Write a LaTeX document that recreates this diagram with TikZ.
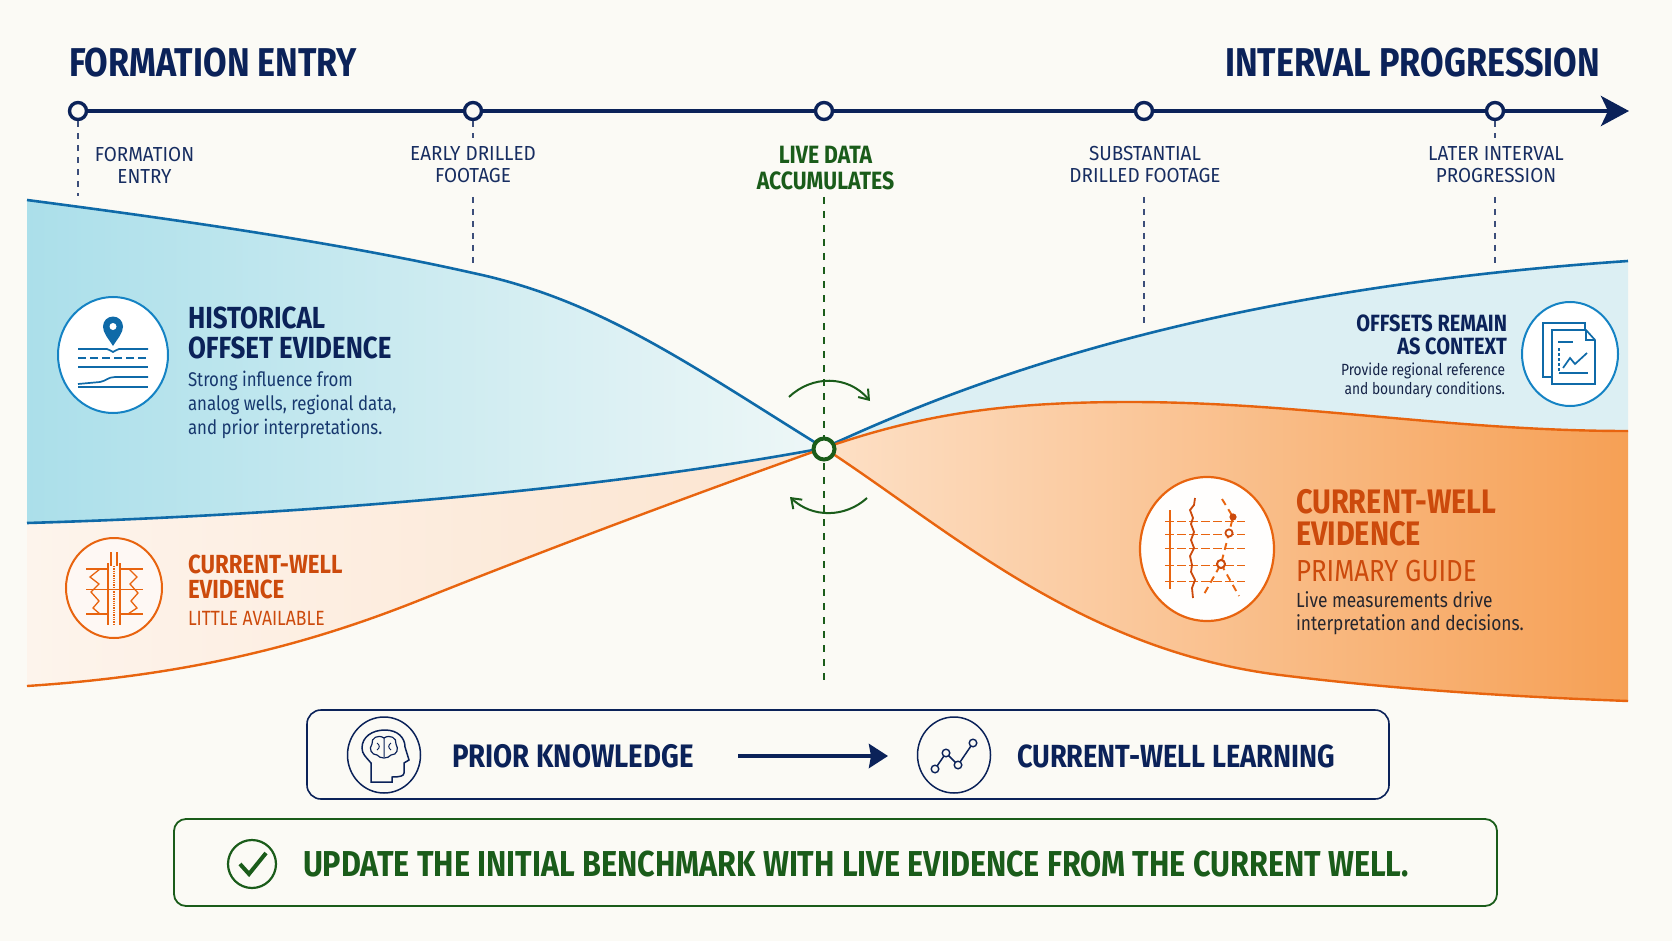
\documentclass[tikz,border=0pt]{standalone}
\usepackage{fontspec}
\usetikzlibrary{arrows.meta}
\setmainfont{Fira Sans}
\newfontfamily\cn[FakeStretch=0.85]{Fira Sans}
\newfontfamily\cw[FakeStretch=0.93]{Fira Sans}
\newcommand{\fz}[2]{\fontsize{#1}{#2}\selectfont}
\newcommand{\pathBT}{(27,200) .. controls (180,220) and (340,243) .. (473,273) .. controls (600,300) and (690,365) .. (824,448)}
\definecolor{bgc}{HTML}{FBFAF5}
\definecolor{navy}{HTML}{0B2259}
\definecolor{bodyblue}{HTML}{17386E}
\definecolor{lineblue}{HTML}{0F6AA8}
\definecolor{iconblue}{HTML}{1583C4}
\definecolor{lineor}{HTML}{E8640F}
\definecolor{textor}{HTML}{CC4A0C}
\definecolor{grn}{HTML}{1A5C1A}
\definecolor{dk}{HTML}{26262E}
\definecolor{blA}{HTML}{ABDFEA}
\definecolor{blB}{HTML}{D2ECF1}
\definecolor{blC}{HTML}{EEF7F7}
\definecolor{blD}{HTML}{DCEFF3}
\definecolor{orA}{HTML}{FDF4EC}
\definecolor{orM}{HTML}{FDF2E8}
\definecolor{orB}{HTML}{FCE4CF}
\definecolor{orC}{HTML}{FDE0C6}
\definecolor{orD}{HTML}{FDC08A}
\definecolor{orE}{HTML}{F6A055}
\tikzset{
  x=1pt,y=-1pt,
  txt/.style={inner sep=0pt,outer sep=0pt},
  axisdot/.style={circle,draw=navy,fill=bgc,line width=3.4pt,minimum size=17pt,inner sep=0pt},
  drop/.style={navy!80,line width=1.2pt,dash pattern=on 6pt off 6pt},
  bandblue/.style={lineblue,line width=2.6pt},
  bandor/.style={lineor,line width=2.4pt},
  icb/.style={lineblue,line width=1.7pt},
  ico/.style={lineor,line width=1.3pt},
  icn/.style={navy,line width=1.5pt},
  rot/.style={grn,line width=2pt,-{Straight Barb[length=9pt,width=13pt]}},
  lab/.style={txt,align=center,text=navy!95,font={\cw\fz{20.3}{22}}},
}
\begin{document}
\begin{tikzpicture}
\fill[bgc] (0,0) rectangle (1672,941);
\useasboundingbox (0,0) rectangle (1672,941);
% --- bands
\shade[left color=blA,middle color=blB,right color=blC]
  \pathBT .. controls (600,490) and (300,515) .. (27,523) -- cycle;
\shade[left color=orA,middle color=orM,right color=orB]
  (27,523) .. controls (300,515) and (600,490) .. (824,448) .. controls (700,492) and (550,548) .. (420,600) .. controls (300,648) and (180,676) .. (27,686) -- cycle;
\fill[blD]
  (824,448) .. controls (960,385) and (1200,290) .. (1628,261) -- (1628,431) .. controls (1450,431) and (1300,402) .. (1130,402) .. controls (1000,402) and (920,415) .. (824,448) -- cycle;
\shade[left color=orC,middle color=orD,right color=orE]
  (824,448) .. controls (920,415) and (1000,402) .. (1130,402) .. controls (1300,402) and (1450,431) .. (1628,431) -- (1628,701) .. controls (1520,697) and (1400,690) .. (1280,675) .. controls (1080,650) and (950,530) .. (824,448) -- cycle;
% --- band edges
\draw[bandblue] \pathBT;
\draw[bandblue] (27,523) .. controls (300,515) and (600,490) .. (824,448);
\draw[bandor] (27,686) .. controls (180,676) and (300,648) .. (420,600) .. controls (550,548) and (700,492) .. (824,448);
\draw[bandblue] (824,448) .. controls (960,385) and (1200,290) .. (1628,261);
\draw[bandor] (824,448) .. controls (920,415) and (1000,402) .. (1130,402) .. controls (1300,402) and (1450,431) .. (1628,431);
\draw[bandor] (824,448) .. controls (950,530) and (1080,650) .. (1280,675) .. controls (1400,690) and (1520,697) .. (1628,701);
% --- titles
\node[txt,anchor=west,text=navy,font={\cn\fz{40.2}{41}\bfseries}] (t1) at (69,63) {FORMATION ENTRY};
\node[txt,anchor=east,text=navy,font={\cn\fz{40.2}{41}\bfseries}] (t2) at (1600,63) {INTERVAL PROGRESSION};
% --- axis
\coordinate (axs) at (78,111);
\coordinate (axe) at (1629,111);
\draw[navy,line width=4pt,-{Stealth[length=28pt,width=30pt,inset=7pt]}] (axs) -- (axe);
\node[axisdot] (a1) at (78,111) {};
\node[axisdot] (a2) at (473,111) {};
\node[axisdot] (a3) at (824,111) {};
\node[axisdot] (a4) at (1144,111) {};
\node[axisdot] (a5) at (1495,111) {};
% --- labels
\node[lab] (l1) at (144.5,165) {FORMATION\\ENTRY};
\node[lab] (l2) at (473,165) {EARLY DRILLED\\FOOTAGE};
\node[txt,align=center,text=grn,font={\cn\fz{25}{26}\bfseries}] (l3) at (825.5,168) {LIVE DATA\\ACCUMULATES};
\node[lab] (l4) at (1145,165) {SUBSTANTIAL\\DRILLED FOOTAGE};
\node[lab] (l5) at (1496,165) {LATER INTERVAL\\PROGRESSION};
% --- drops
\coordinate (d1) at (78,196);
\coordinate (d2a) at (473,138); \coordinate (d2b) at (473,197); \coordinate (d2c) at (473,264);
\coordinate (d3a) at (824,197); \coordinate (d3b) at (824,683);
\coordinate (d4a) at (1144,197); \coordinate (d4b) at (1144,328);
\coordinate (d5a) at (1495,138); \coordinate (d5b) at (1495,197); \coordinate (d5c) at (1495,264);
\draw[drop] (a1) -- (d1);
\draw[drop] (a2) -- (d2a); \draw[drop] (d2b) -- (d2c);
\draw[drop,grn,dash pattern=on 7pt off 7pt] (d3a) -- (d3b);
\draw[drop] (d4a) -- (d4b);
\draw[drop] (a5) -- (d5a); \draw[drop] (d5b) -- (d5c);
% --- centre
\coordinate (r1a) at (789,397); \coordinate (r1b) at (870,401);
\coordinate (r2a) at (867,498); \coordinate (r2b) at (790,497);
\draw[rot] (r1a) .. controls (812,375) and (848,375) .. (r1b);
\draw[rot] (r2a) .. controls (845,518) and (812,518) .. (r2b);
\node[circle,draw=grn,fill=bgc,line width=4pt,minimum size=21pt,inner sep=0pt] (ctr) at (824,449) {};
% --- historical icon
\draw[iconblue,fill=white,line width=2pt] (113,355) ellipse [x radius=55,y radius=58];
\fill[lineblue] (113,346) .. controls (108,338) and (103,333) .. (103,326.5) arc[start angle=180,end angle=360,radius=10] .. controls (123,333) and (118,338) .. (113,346) -- cycle;
\fill[white] (113,326.5) circle[radius=3.5];
\draw[icb] (78,349) -- (107,349) .. controls (110,349) and (111,352) .. (113,352) .. controls (115,352) and (116,349) .. (119,349) -- (148,349);
\draw[icb,dash pattern=on 8pt off 4pt] (78,358) -- (148,358);
\draw[icb] (78,367) -- (148,367);
\draw[icb] (78,387) -- (148,387);
\draw[icb] (78,384) -- (100,382) .. controls (106,381) and (108,377) .. (115,377) -- (148,377);
% --- well icon small
\draw[lineor,fill=white!40!orA,line width=2pt] (114,588) ellipse [x radius=48,y radius=50];
\draw[ico] (86,569) -- (108,569) (120,569) -- (143,569);
\draw[ico] (86,614) -- (108,614) (120,614) -- (143,614);
\draw[ico,line width=.7pt] (86,589) -- (143,589);
\draw[ico,line width=1.7pt] (108,563) -- (108,625) (120,563) -- (120,625);
\draw[ico] (111,552) -- (111,566) (117,552) -- (117,566);
\draw[ico,densely dotted,line width=1.4pt] (114,566) -- (114,625);
\draw[ico] (100,569) -- (90,577) -- (99,584) -- (91,592) -- (99,601) -- (93,608) -- (100,614);
\draw[ico] (129,569) -- (137,577) -- (130,584) -- (138,593) -- (131,601) -- (137,608) -- (128,614);
% --- offsets icon
\draw[iconblue,fill=white,line width=2pt] (1570,354) ellipse [x radius=48,y radius=52];
\draw[icb] (1552,377) -- (1543,377) -- (1543,323) -- (1585,323) -- (1585,330);
\draw[icb,fill=white] (1552,330) -- (1586,330) -- (1595,340) -- (1595,384) -- (1552,384) -- cycle;
\draw[icb] (1586,330) -- (1586,340) -- (1595,340);
\draw[icb,line width=1.2pt] (1558,342) -- (1573,342);
\draw[icb,line width=1.2pt,densely dashed] (1559,348) -- (1559,373);
\draw[icb,line width=1.2pt] (1559,373) -- (1588,373);
\draw[icb] (1563,368) -- (1570,358) -- (1575,364) -- (1587,353);
% --- log icon
\draw[lineor,fill=white!96!orC,line width=2.2pt] (1207,549) ellipse [x radius=67,y radius=72];
\draw[ico,line width=1.8pt] (1170,510) -- (1170,589);
\foreach \yy in {521,534,548,565,581}{\draw[ico,line width=.9pt,dash pattern=on 9pt off 3pt] (1165,\yy) -- (1245,\yy);}
\draw[textor,line width=1.8pt] (1195,498) -- (1194,505) -- (1190,510) -- (1193,518) -- (1191,524) -- (1194,532) -- (1191,540) -- (1194,548) -- (1190,556) -- (1192,565) -- (1191,572) -- (1195,580) -- (1192,588) -- (1193,598);
\draw[lineor,line width=1.9pt,dash pattern=on 7pt off 5pt] (1222,499) -- (1233,517) -- (1229,533) -- (1221,564) -- (1203,596);
\draw[lineor,line width=1.9pt,dash pattern=on 7pt off 5pt] (1221,564) -- (1239,596);
\fill[textor] (1233,517) circle[radius=3.6];
\draw[textor,fill=white,line width=1.8pt] (1229,533) circle[radius=3.6];
\draw[textor,fill=white,line width=2pt] (1221,564) circle[radius=4];
% --- band text
\node[txt,anchor=west,align=left,text=navy,font={\cn\fz{30.5}{30}\bfseries}] (h1) at (188,332.5) {HISTORICAL\\OFFSET EVIDENCE};
\node[txt,anchor=west,align=left,text=bodyblue,font={\cn\fz{19.8}{24}}] (h2) at (188,405) {Strong influence from\\analog wells, regional data,\\and prior interpretations.};
\node[txt,anchor=west,align=left,text=textor,font={\cn\fz{26.2}{25}\bfseries}] (c1) at (188,577) {CURRENT-WELL\\EVIDENCE};
\node[txt,anchor=west,text=textor,font={\cn\fz{20.6}{20}}] (c2) at (188,618) {LITTLE AVAILABLE};
\node[txt,anchor=east,align=right,text=navy,font={\cn\fz{23.5}{23}\bfseries}] (o1) at (1507,335) {OFFSETS REMAIN\\AS CONTEXT};
\node[txt,anchor=east,align=right,text=dk!40!navy,font={\cn\fz{16.2}{19}}] (o2) at (1505,380) {Provide regional reference\\and boundary conditions.};
\node[txt,anchor=west,align=left,text=textor,font={\cn\fz{34}{32}\bfseries}] (p1) at (1296,518) {CURRENT-WELL\\EVIDENCE};
\node[txt,anchor=west,text=textor,font={\cn\fz{30.4}{30}}] (p2) at (1296,571) {PRIMARY GUIDE};
\node[txt,anchor=west,align=left,text=dk,font={\cn\fz{20.4}{23}}] (p3) at (1296,613) {Live measurements drive\\interpretation and decisions.};
% --- legend box
\draw[navy,line width=1.6pt,rounded corners=14pt,fill=bgc] (307,710) rectangle (1389,799);
\draw[icn,fill=bgc] (384,755) ellipse [x radius=36.5,y radius=38];
\draw[icn] (371,782) -- (371,763) .. controls (366,757) and (362,754) .. (362,748) .. controls (362,737) and (372,730) .. (385,730) .. controls (398,730) and (405,738) .. (405,747) -- (409,760) -- (404,763) -- (404,773) .. controls (404,776) and (400,777) .. (392,777) -- (392,782) -- cycle;
\draw[icn,line width=1.2pt] (384,738) .. controls (378,734) and (371,738) .. (372,744) .. controls (368,749) and (372,755) .. (377,755) .. controls (380,759) and (388,759) .. (391,755) .. controls (397,755) and (399,749) .. (396,744) .. controls (397,738) and (390,734) .. (384,738) -- cycle;
\draw[icn,line width=1pt] (384,738) -- (384,757) (377,743) .. controls (380,745) and (380,748) .. (377,750) (391,743) .. controls (388,745) and (388,748) .. (391,750);
\node[txt,anchor=west,text=navy,font={\cn\fz{32.5}{32}\bfseries}] (k1) at (452,756) {PRIOR KNOWLEDGE};
\coordinate (ka) at (738,756); \coordinate (kb) at (888,756);
\draw[navy,line width=4pt,-{Stealth[length=19pt,width=24pt,inset=2pt]}] (ka) -- (kb);
\draw[icn,fill=bgc] (954,755) ellipse [x radius=36.5,y radius=38];
\draw[icn] (935,769) -- (946,753) -- (958,765) -- (973,743);
\foreach \px/\py in {935/769,946/753,958/765,973/743}{\draw[icn,fill=bgc,line width=1.4pt] (\px,\py) circle[radius=3.8];}
\node[txt,anchor=west,text=navy,font={\cn\fz{32}{32}\bfseries}] (k2) at (1017,756) {CURRENT-WELL LEARNING};
% --- takeaway
\draw[grn,line width=1.8pt,rounded corners=12pt,fill=bgc] (174,819) rectangle (1497,906);
\draw[grn,line width=2.2pt] (252,864) circle[radius=24];
\draw[grn,line width=4pt] (240,864) -- (249,874) -- (266,853);
\node[txt,anchor=west,text=grn,font={\cn\fz{36}{36}\bfseries}] (u1) at (303,864) {UPDATE THE INITIAL BENCHMARK WITH LIVE EVIDENCE FROM THE CURRENT WELL.};
\end{tikzpicture}
\end{document}
